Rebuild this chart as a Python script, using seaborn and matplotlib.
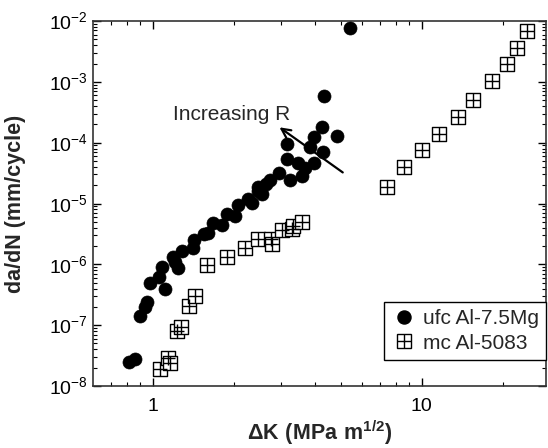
import matplotlib
matplotlib.use('Agg')
import matplotlib.pyplot as plt
import seaborn as sns
import pandas as pd
from matplotlib.lines import Line2D
from matplotlib.legend_handler import HandlerTuple
from matplotlib.ticker import FixedLocator, FixedFormatter, LogLocator, NullFormatter

# ufc Al-7.5Mg (filled circles)
ufc_dk = [0.818, 0.859, 0.899, 0.936, 0.956, 0.981, 1.055, 1.080, 1.108, 1.193,
          1.210, 1.239, 1.291, 1.416, 1.430, 1.551, 1.610, 1.680, 1.805, 1.884,
          2.023, 2.081, 2.267, 2.334, 2.470, 2.543, 2.470, 2.637, 2.730, 2.949,
          3.239, 3.165, 3.165, 3.459, 3.580, 3.680, 3.845, 3.988, 3.988, 4.270,
          4.310, 4.345, 4.830, 5.410]
ufc_rate = [2.49e-8, 2.73e-8, 1.39e-7, 2.0e-7, 2.42e-7, 4.85e-7, 6.15e-7, 9.1e-7, 4.0e-7, 1.33e-6,
            1.10e-6, 8.6e-7, 1.65e-6, 1.83e-6, 2.55e-6, 3.14e-6, 3.22e-6, 4.85e-6, 4.41e-6, 6.82e-6,
            6.21e-6, 9.6e-6, 1.2e-5, 1.03e-5, 1.6e-5, 1.46e-5, 1.88e-5, 2.12e-5, 2.43e-5, 3.2e-5,
            2.43e-5, 5.3e-5, 9.5e-5, 4.57e-5, 2.82e-5, 3.78e-5, 8.57e-5, 1.22e-4, 4.67e-5, 1.83e-4,
            7.08e-5, 5.84e-4, 1.30e-4, 7.76e-3]

# mc Al-5083 (boxed crosses)
mc_dk = [1.064, 1.137, 1.160, 1.228, 1.271, 1.368, 1.432, 1.598, 1.884, 2.204,
         2.470, 2.754, 2.777, 3.017, 3.295, 3.333, 3.600,
         7.45, 8.6, 10.0, 11.57, 13.6, 15.5, 18.2, 20.8, 22.7, 24.6]
mc_rate = [1.89e-8, 2.94e-8, 2.37e-8, 8.1e-8, 9.45e-8, 2.05e-7, 3.0e-7, 9.7e-7, 1.33e-6, 1.88e-6,
           2.6e-6, 2.65e-6, 2.19e-6, 3.65e-6, 3.79e-6, 4.3e-6, 4.89e-6,
           1.88e-5, 4.0e-5, 7.6e-5, 1.38e-4, 2.67e-4, 5.0e-4, 1.04e-3, 2.0e-3, 3.6e-3, 6.85e-3]

x_ticks = [1, 10]
x_ticklabels = ['1', '10']
y_ticks = [1e-8, 1e-7, 1e-6, 1e-5, 1e-4, 1e-3, 1e-2]
y_ticklabels = [r'$10^{-8}$', r'$10^{-7}$', r'$10^{-6}$', r'$10^{-5}$',
                r'$10^{-4}$', r'$10^{-3}$', r'$10^{-2}$']

ufc = pd.DataFrame({'dK': ufc_dk, 'rate': ufc_rate})
mc = pd.DataFrame({'dK': mc_dk, 'rate': mc_rate})

sns.set_style('ticks')
plt.rcParams['font.family'] = ['Liberation Sans', 'DejaVu Sans']
plt.rcParams['mathtext.fontset'] = 'custom'
plt.rcParams['mathtext.rm'] = 'Liberation Sans'
plt.rcParams['mathtext.bf'] = 'Liberation Sans:bold'

fig = plt.figure(figsize=(5.48, 4.48), dpi=100)
ax = fig.add_axes([0.1697, 0.1384, 0.8266, 0.8147])
ax.set_xscale('log')
ax.set_yscale('log')

msize = 88
sns.scatterplot(data=mc, x='dK', y='rate', marker='s', s=msize, color='white',
                edgecolor='black', linewidth=1.0, ax=ax, zorder=2)
sns.scatterplot(data=mc, x='dK', y='rate', marker='+', s=msize, color='black',
                linewidth=1.0, ax=ax, zorder=3)
sns.scatterplot(data=ufc, x='dK', y='rate', marker='o', s=msize, color='black',
                edgecolor='black', linewidth=0.5, ax=ax, zorder=4)

ax.set_xlim(0.6, 29)
ax.set_ylim(1e-8, 1e-2)

ax.xaxis.set_major_locator(FixedLocator(x_ticks))
ax.xaxis.set_major_formatter(FixedFormatter(x_ticklabels))
ax.xaxis.set_minor_locator(FixedLocator([0.7, 0.8, 0.9, 2, 3, 4, 5, 6, 7, 8, 9, 20]))
ax.xaxis.set_minor_formatter(NullFormatter())
ax.yaxis.set_major_locator(FixedLocator(y_ticks))
ax.yaxis.set_major_formatter(FixedFormatter(y_ticklabels))
ax.yaxis.set_minor_locator(LogLocator(base=10, subs=range(2, 10), numticks=20))
ax.yaxis.set_minor_formatter(NullFormatter())

ax.tick_params(which='both', direction='in', top=True, right=True, labelsize=14, colors='black')
ax.tick_params(which='major', length=6, width=1)
ax.tick_params(which='minor', length=3, width=0.8)
ax.tick_params(axis='x', which='major', pad=9)
for sp in ax.spines.values():
    sp.set_color('#333333')
    sp.set_linewidth(1.2)

ax.set_xlabel(r'$\mathbf{ΔK\ (MPa\ m^{1/2})}$', fontsize=15.5, labelpad=2)
ax.set_ylabel('da/dN (mm/cycle)', fontsize=15.5, fontweight='bold')
ax.yaxis.set_label_coords(-0.148, 0.5)

ax.annotate('', xy=(2.905, 1.90e-4), xytext=(5.19, 3.05e-5),
            arrowprops=dict(arrowstyle='->', lw=1.6, color='black', mutation_scale=16))
ax.text(1.966, 2.35e-4, 'Increasing R', fontsize=15, ha='center', va='baseline')

h_ufc = Line2D([], [], marker='o', ls='none', color='black', markersize=9.4)
h_sq = Line2D([], [], marker='s', ls='none', markerfacecolor='white',
              markeredgecolor='black', markersize=9.4, markeredgewidth=1.0)
h_pl = Line2D([], [], marker='+', ls='none', color='black', markersize=9.4,
              markeredgewidth=1.0)
leg = ax.legend([h_ufc, (h_sq, h_pl)], ['ufc Al-7.5Mg', 'mc Al-5083'],
                handler_map={tuple: HandlerTuple(ndivide=1)},
                loc='lower right', bbox_to_anchor=(1.0, 0.071), borderaxespad=0,
                fontsize=15, frameon=True, fancybox=False, framealpha=1,
                edgecolor='black', handlelength=1.2, handletextpad=0.3,
                borderpad=0.35, labelspacing=0.27)
leg.get_frame().set_linewidth(1.0)

fig.savefig('out.png', dpi=100)
